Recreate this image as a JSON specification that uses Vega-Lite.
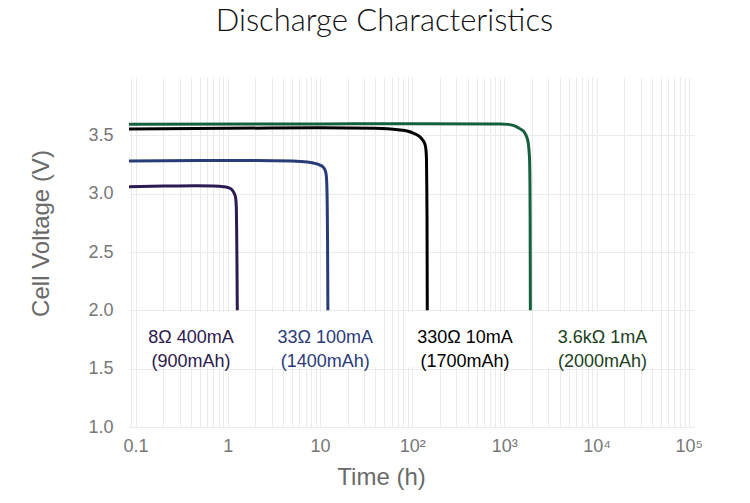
{
  "$schema": "https://vega.github.io/schema/vega-lite/v6.json",
  "width": 565,
  "height": 350,
  "autosize": {"type": "none"},
  "padding": {"left": 129, "top": 77, "right": 56, "bottom": 76},
  "background": "white",
  "title": {
    "text": "Discharge Characteristics",
    "font": "Lato",
    "fontWeight": 300,
    "fontSize": 31,
    "color": "#111111",
    "anchor": "middle",
    "dx": -27,
    "baseline": "alphabetic",
    "offset": 15
  },
  "config": {
    "view": {"stroke": null},
    "axis": {
      "domain": false,
      "ticks": false,
      "gridColor": "#ebebeb",
      "gridWidth": 1,
      "labelFont": "Liberation Sans",
      "labelFontSize": 18,
      "labelColor": "#777777",
      "titleFont": "Liberation Sans",
      "titleFontSize": 24,
      "titleFontWeight": "normal",
      "titleColor": "#6a6a6a"
    }
  },
  "resolve": {"scale": {"color": "independent"}},
  "datasets": {
    "curves": [
      {"s": "8Ω", "t": 0.085, "v": 3.06},
      {"s": "8Ω", "t": 0.2, "v": 3.065},
      {"s": "8Ω", "t": 0.45, "v": 3.068},
      {"s": "8Ω", "t": 0.7, "v": 3.066},
      {"s": "8Ω", "t": 0.9, "v": 3.06},
      {"s": "8Ω", "t": 1.03, "v": 3.05},
      {"s": "8Ω", "t": 1.12, "v": 3.03},
      {"s": "8Ω", "t": 1.18, "v": 3.0},
      {"s": "8Ω", "t": 1.22, "v": 2.96},
      {"s": "8Ω", "t": 1.24, "v": 2.88},
      {"s": "8Ω", "t": 1.25, "v": 2.7},
      {"s": "8Ω", "t": 1.26, "v": 2.4},
      {"s": "8Ω", "t": 1.27, "v": 2.0},
      {"s": "33Ω", "t": 0.085, "v": 3.28},
      {"s": "33Ω", "t": 0.5, "v": 3.284},
      {"s": "33Ω", "t": 2, "v": 3.285},
      {"s": "33Ω", "t": 5, "v": 3.28},
      {"s": "33Ω", "t": 7.2, "v": 3.272},
      {"s": "33Ω", "t": 9, "v": 3.258},
      {"s": "33Ω", "t": 10, "v": 3.245},
      {"s": "33Ω", "t": 10.9, "v": 3.225},
      {"s": "33Ω", "t": 11.4, "v": 3.2},
      {"s": "33Ω", "t": 11.7, "v": 3.16},
      {"s": "33Ω", "t": 11.85, "v": 3.1},
      {"s": "33Ω", "t": 12.0, "v": 2.9},
      {"s": "33Ω", "t": 12.1, "v": 2.6},
      {"s": "33Ω", "t": 12.2, "v": 2.0},
      {"s": "330Ω", "t": 0.085, "v": 3.555},
      {"s": "330Ω", "t": 1, "v": 3.56},
      {"s": "330Ω", "t": 10, "v": 3.565},
      {"s": "330Ω", "t": 40, "v": 3.56},
      {"s": "330Ω", "t": 70, "v": 3.548},
      {"s": "330Ω", "t": 90, "v": 3.535},
      {"s": "330Ω", "t": 103, "v": 3.518},
      {"s": "330Ω", "t": 115, "v": 3.5},
      {"s": "330Ω", "t": 127, "v": 3.47},
      {"s": "330Ω", "t": 134, "v": 3.445},
      {"s": "330Ω", "t": 138, "v": 3.42},
      {"s": "330Ω", "t": 141, "v": 3.38},
      {"s": "330Ω", "t": 143, "v": 3.3},
      {"s": "330Ω", "t": 144, "v": 3.1},
      {"s": "330Ω", "t": 145, "v": 2.8},
      {"s": "330Ω", "t": 146, "v": 2.0},
      {"s": "3.6kΩ", "t": 0.085, "v": 3.595},
      {"s": "3.6kΩ", "t": 10, "v": 3.598},
      {"s": "3.6kΩ", "t": 100, "v": 3.6},
      {"s": "3.6kΩ", "t": 900, "v": 3.598},
      {"s": "3.6kΩ", "t": 1100, "v": 3.594},
      {"s": "3.6kΩ", "t": 1250, "v": 3.585},
      {"s": "3.6kΩ", "t": 1362, "v": 3.572},
      {"s": "3.6kΩ", "t": 1500, "v": 3.553},
      {"s": "3.6kΩ", "t": 1676, "v": 3.517},
      {"s": "3.6kΩ", "t": 1760, "v": 3.48},
      {"s": "3.6kΩ", "t": 1820, "v": 3.43},
      {"s": "3.6kΩ", "t": 1860, "v": 3.35},
      {"s": "3.6kΩ", "t": 1880, "v": 3.28},
      {"s": "3.6kΩ", "t": 1895, "v": 3.1},
      {"s": "3.6kΩ", "t": 1905, "v": 2.8},
      {"s": "3.6kΩ", "t": 1915, "v": 2.0}
    ],
    "labels": [
      {"s": "8Ω", "label": "8Ω 400mA\n(900mAh)", "t": 0.4, "v": 1.763, "t0": 0.112, "t1": 1.43},
      {"s": "33Ω", "label": "33Ω 100mA\n(1400mAh)", "t": 11.4, "v": 1.763, "t0": 2.6, "t1": 49.5},
      {"s": "330Ω", "label": "330Ω 10mA\n(1700mAh)", "t": 375, "v": 1.763, "t0": 85.9, "t1": 1637},
      {"s": "3.6kΩ", "label": "3.6kΩ 1mA\n(2000mAh)", "t": 11600, "v": 1.763, "t0": 2904, "t1": 46400}
    ]
  },
  "layer": [
    {
      "data": {"name": "labels"},
      "mark": {"type": "rect", "fill": "white", "stroke": null},
      "encoding": {
        "x": {
          "field": "t0",
          "type": "quantitative",
          "scale": {"type": "log", "domain": [0.085, 114000]},
          "axis": {
            "title": "Time (h)",
            "grid": true,
            "labelOverlap": false,
            "labelPadding": 10,
            "labelBaseline": "top",
            "values": [0.09, 0.1, 0.2, 0.3, 0.4, 0.5, 0.6, 0.7, 0.8, 0.9, 1, 2, 3, 4, 5, 6, 7, 8, 9, 10, 20, 30, 40, 50, 60, 70, 80, 90, 100, 200, 300, 400, 500, 600, 700, 800, 900, 1000, 2000, 3000, 4000, 5000, 6000, 7000, 8000, 9000, 10000, 20000, 30000, 40000, 50000, 60000, 70000, 80000, 90000, 100000],
            "labelExpr": "datum.value == 0.1 ? '0.1' : datum.value == 1 ? '1' : datum.value == 10 ? '10' : datum.value == 100 ? '10²' : datum.value == 1000 ? '10³' : datum.value == 10000 ? '10⁴' : datum.value == 100000 ? '10⁵' : ''",
            "titleX": 252,
            "titleY": 57,
            "titleBaseline": "alphabetic"
          }
        },
        "x2": {"field": "t1"},
        "y": {
          "datum": 1.515,
          "type": "quantitative",
          "scale": {"domain": [1, 4], "zero": false},
          "axis": {
            "title": "Cell Voltage (V)",
            "grid": true,
            "values": [1, 1.5, 2, 2.5, 3, 3.5],
            "format": ".1f",
            "labelPadding": 16,
            "titlePadding": 34,
            "titleY": 156
          }
        },
        "y2": {"datum": 1.985}
      }
    },
    {
      "data": {"name": "curves"},
      "mark": {"type": "line", "strokeWidth": 3, "interpolate": "monotone"},
      "encoding": {
        "x": {"field": "t", "type": "quantitative", "scale": {"type": "log", "domain": [0.085, 114000]}},
        "y": {"field": "v", "type": "quantitative", "scale": {"domain": [1, 4], "zero": false}},
        "color": {
          "field": "s",
          "type": "nominal",
          "scale": {"domain": ["8Ω", "33Ω", "330Ω", "3.6kΩ"], "range": ["#2c1a52", "#273c78", "#000000", "#14603e"]},
          "legend": null
        }
      }
    },
    {
      "data": {"name": "labels"},
      "mark": {"type": "text", "font": "Liberation Sans", "fontSize": 18, "lineBreak": "\n", "lineHeight": 24, "baseline": "middle", "align": "center"},
      "encoding": {
        "x": {"field": "t", "type": "quantitative", "scale": {"type": "log", "domain": [0.085, 114000]}},
        "y": {"field": "v", "type": "quantitative", "scale": {"domain": [1, 4], "zero": false}},
        "text": {"field": "label"},
        "color": {
          "field": "s",
          "type": "nominal",
          "scale": {"domain": ["8Ω", "33Ω", "330Ω", "3.6kΩ"], "range": ["#2d1a4d", "#2b3b7a", "#000000", "#203f1c"]},
          "legend": null
        }
      }
    }
  ]
}
